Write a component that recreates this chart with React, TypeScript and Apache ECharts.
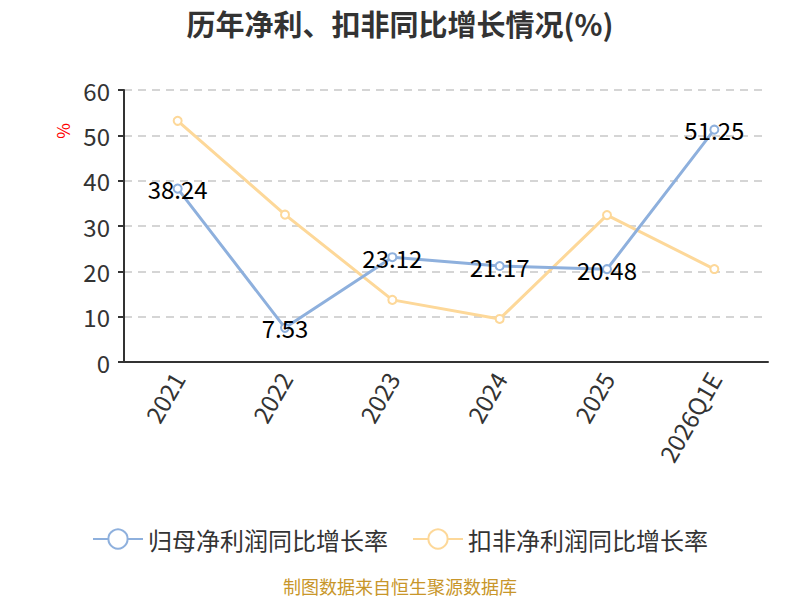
import { useEffect, useRef } from "react";
import * as echarts from "echarts";

const CATEGORIES = ["2021", "2022", "2023", "2024", "2025", "2026Q1E"];
const NET_PROFIT_GROWTH = [38.24, 7.53, 23.12, 21.17, 20.48, 51.25];
const DEDUCTED_GROWTH = [53.2, 32.5, 13.7, 9.5, 32.4, 20.5];
const SERIES_NAMES = ["归母净利润同比增长率", "扣非净利润同比增长率"];

const FONT = "'Noto Sans CJK SC', 'Noto Sans', sans-serif";

export default function App() {
  const chartRef = useRef<HTMLDivElement>(null);

  useEffect(() => {
    if (!chartRef.current) return;
    const chart = echarts.init(chartRef.current, null, { renderer: "svg" });

    chart.setOption({
      animation: false,
      backgroundColor: "#fff",
      title: {
        text: "历年净利、扣非同比增长情况(%)",
        left: "center",
        top: 3,
        textStyle: { color: "#333", fontSize: 29, fontWeight: "bold", fontFamily: FONT },
      },
      grid: { left: 124, right: 32, top: 90, bottom: 238 },
      legend: {
        bottom: 44,
        left: "center",
        itemWidth: 50,
        itemHeight: 24,
        itemGap: 24,
        textStyle: { color: "#333", fontSize: 24, fontFamily: FONT },
        data: SERIES_NAMES,
      },
      graphic: [
        {
          type: "text",
          left: 54,
          top: 123,
          rotation: Math.PI / 2,
          style: { text: "%", fill: "#f00", fontSize: 17, fontFamily: FONT },
        },
        {
          type: "text",
          left: "center",
          bottom: 5,
          style: { text: "制图数据来自恒生聚源数据库", fill: "#c8962a", fontSize: 18, fontFamily: FONT },
        },
      ],
      xAxis: {
        type: "category",
        data: CATEGORIES,
        boundaryGap: true,
        axisLine: { lineStyle: { color: "#333", width: 2 } },
        axisTick: { lineStyle: { color: "#333", width: 2 }, length: 6 },
        axisLabel: { color: "#333", fontSize: 24, rotate: 60, margin: 12, fontFamily: FONT },
      },
      yAxis: {
        type: "value",
        min: 0,
        max: 60,
        interval: 10,
        axisLine: { show: true, lineStyle: { color: "#333", width: 2 } },
        axisTick: { show: true, lineStyle: { color: "#333", width: 2 }, length: 6 },
        axisLabel: { color: "#333", fontSize: 24, margin: 14, fontFamily: FONT },
        splitLine: { lineStyle: { color: "#c8c8c8", type: [8, 6], width: 1.5 } },
      },
      series: [
        {
          name: SERIES_NAMES[0],
          type: "line",
          data: NET_PROFIT_GROWTH,
          symbol: "emptyCircle",
          symbolSize: 8,
          color: "#8eb0dd",
          lineStyle: { width: 3 },
          label: {
            show: true,
            position: "inside",
            color: "#000",
            fontSize: 24,
            fontFamily: FONT,
          },
          z: 3,
        },
        {
          name: SERIES_NAMES[1],
          type: "line",
          data: DEDUCTED_GROWTH,
          symbol: "emptyCircle",
          symbolSize: 8,
          color: "#fdd899",
          lineStyle: { width: 3 },
          z: 2,
        },
      ],
    });

    return () => chart.dispose();
  }, []);

  return (
    <div
      ref={chartRef}
      style={{ position: "absolute", left: 0, top: 0, width: 800, height: 600 }}
    />
  );
}
